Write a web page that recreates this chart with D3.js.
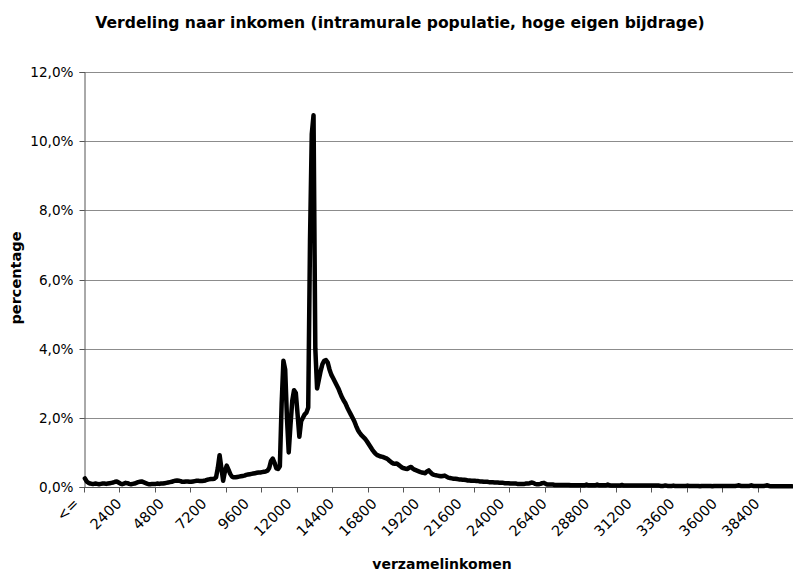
<!DOCTYPE html>
<html><head><meta charset="utf-8">
<script src="https://cdn.jsdelivr.net/npm/d3@7"></script>
<style>body{margin:0;background:#fff;overflow:hidden}</style>
</head><body><svg id="c" width="793" height="572"></svg>
<script>
const chartTitle = "Verdeling naar inkomen (intramurale populatie, hoge eigen bijdrage)";
const yTitle = "percentage";
const xTitle = "verzamelinkomen";
const yTicks = [0, 2, 4, 6, 8, 10, 12];
const xTickLabels = ["<=", "2400", "4800", "7200", "9600", "12000", "14400", "16800", "19200",
  "21600", "24000", "26400", "28800", "31200", "33600", "36000", "38400"];
// percentage per income class of 100 (class 0 = "<=")
const values = [
  0.25,0.16,0.12,0.10,0.09,0.09,0.10,0.09,0.08,0.09,0.10,0.10,0.09,0.10,0.11,0.12,0.13,0.15,0.16,0.13,
  0.10,0.08,0.10,0.12,0.11,0.09,0.08,0.09,0.10,0.12,0.14,0.15,0.16,0.14,0.12,0.10,0.08,0.08,0.09,0.09,
  0.09,0.10,0.09,0.10,0.10,0.11,0.12,0.13,0.14,0.15,0.17,0.18,0.19,0.18,0.17,0.15,0.15,0.16,0.16,0.15,
  0.15,0.16,0.17,0.18,0.18,0.17,0.17,0.18,0.19,0.21,0.22,0.23,0.23,0.24,0.28,0.55,0.92,0.55,0.18,0.45,
  0.62,0.50,0.38,0.30,0.28,0.28,0.29,0.30,0.31,0.32,0.33,0.35,0.36,0.37,0.38,0.39,0.40,0.41,0.42,0.42,
  0.43,0.44,0.45,0.47,0.55,0.75,0.82,0.70,0.54,0.52,0.60,2.40,3.65,3.40,2.00,1.00,1.80,2.50,2.80,2.72,
  2.10,1.45,1.90,2.00,2.10,2.15,2.30,7.10,10.20,10.75,4.00,2.85,3.10,3.35,3.55,3.65,3.67,3.60,3.40,3.25,
  3.15,3.05,2.95,2.85,2.72,2.60,2.50,2.42,2.30,2.20,2.10,2.00,1.90,1.77,1.65,1.57,1.50,1.45,1.40,1.33,
  1.25,1.17,1.09,1.02,0.96,0.92,0.90,0.88,0.87,0.85,0.83,0.80,0.75,0.71,0.68,0.67,0.68,0.64,0.60,0.56,
  0.54,0.53,0.52,0.56,0.58,0.53,0.50,0.48,0.46,0.44,0.42,0.41,0.40,0.45,0.48,0.42,0.37,0.35,0.34,0.33,
  0.32,0.31,0.32,0.33,0.30,0.27,0.26,0.25,0.24,0.24,0.23,0.22,0.22,0.21,0.21,0.20,0.19,0.19,0.18,0.18,
  0.18,0.17,0.17,0.16,0.16,0.15,0.15,0.15,0.14,0.14,0.14,0.13,0.13,0.13,0.12,0.12,0.12,0.11,0.11,0.11,
  0.10,0.10,0.10,0.10,0.09,0.09,0.09,0.09,0.09,0.10,0.10,0.11,0.13,0.12,0.09,0.08,0.08,0.09,0.11,0.12,
  0.09,0.07,0.07,0.07,0.07,0.06,0.06,0.06,0.06,0.06,0.06,0.06,0.06,0.06,0.05,0.05,0.05,0.05,0.05,0.05,
  0.05,0.05,0.05,0.07,0.05,0.05,0.05,0.05,0.05,0.07,0.05,0.05,0.05,0.05,0.05,0.07,0.05,0.04,0.04,0.04,
  0.04,0.04,0.04,0.06,0.04,0.04,0.04,0.04,0.04,0.04,0.04,0.04,0.04,0.04,0.04,0.04,0.04,0.04,0.04,0.04,
  0.04,0.04,0.04,0.04,0.04,0.03,0.03,0.04,0.04,0.03,0.03,0.03,0.04,0.03,0.03,0.03,0.03,0.03,0.03,0.03,
  0.04,0.03,0.03,0.03,0.03,0.03,0.03,0.02,0.03,0.03,0.03,0.03,0.03,0.03,0.02,0.03,0.03,0.03,0.03,0.03,
  0.03,0.03,0.03,0.03,0.03,0.03,0.03,0.03,0.04,0.05,0.03,0.03,0.03,0.03,0.03,0.03,0.05,0.03,0.03,0.03,
  0.03,0.03,0.03,0.03,0.04,0.05,0.03,0.02,0.02,0.02,0.02,0.02,0.02,0.02,0.02,0.02,0.02,0.02,0.02,0.02
];
const categories = values.map((v, i) => i === 0 ? "<=" : String(i * 100));

const svg = d3.select("#c");
const W = 793, H = 572;
const m = {left: 84, right: 0, top: 72, bottom: 85};
const x = d3.scaleBand().domain(categories).range([m.left, W - m.right]);
const y = d3.scaleLinear().domain([0, 12]).range([H - m.bottom, m.top]);
const bw = x.bandwidth();
const font = "DejaVu Sans, Verdana, sans-serif";

// gridlines
svg.append("g").selectAll("line").data(yTicks.filter(t => t > 0)).join("line")
  .attr("x1", m.left).attr("x2", W).attr("y1", d => Math.round(y(d)) + 0.5).attr("y2", d => Math.round(y(d)) + 0.5)
  .attr("stroke", "#8c8c8c").attr("stroke-width", 1);

// y axis
const yAxis = d3.axisLeft(y).tickValues(yTicks).tickSize(5).tickPadding(6)
  .tickFormat(d => d3.format(".1f")(d).replace(".", ",") + "%");
const ya = svg.append("g").attr("transform", `translate(${m.left + 0.5},0)`).call(yAxis);
ya.select(".domain").attr("stroke", "#555");
ya.selectAll(".tick line").attr("stroke", "#555");
ya.selectAll(".tick").attr("transform", d => `translate(0,${Math.round(y(d)) + 0.5})`);
ya.selectAll("text").attr("font-family", font).attr("font-size", 13.6).attr("fill", "#000");

// x axis line and tick marks (every 20 classes)
const base = Math.round(y(0)) + 0.5;
svg.append("line").attr("x1", m.left).attr("x2", W).attr("y1", base).attr("y2", base)
  .attr("stroke", "#555").attr("stroke-width", 1);
const tickCats = categories.filter((c, i) => i % 20 === 0);
const tickPos = tickCats.map(c => x(c)).concat([x.range()[1]]);
svg.append("g").selectAll("line").data(tickPos).join("line")
  .attr("x1", d => Math.round(d) + 0.5).attr("x2", d => Math.round(d) + 0.5)
  .attr("y1", base).attr("y2", base + 5).attr("stroke", "#555");

// x tick labels
const labelCats = categories.filter(c => xTickLabels.includes(c));
svg.append("g").selectAll("text").data(labelCats).join("text")
  .attr("transform", d => `translate(${x(d) + bw / 2 - 5},${base + 17}) rotate(-45)`)
  .attr("text-anchor", "end")
  .attr("font-family", font).attr("font-size", 14.5).attr("fill", "#000")
  .text(d => d);

// line
const line = d3.line().x((d, i) => x(categories[i]) + bw / 2).y(d => y(d));
svg.append("path").datum(values).attr("d", line)
  .attr("fill", "none").attr("stroke", "#000").attr("stroke-width", 4.5)
  .attr("stroke-linejoin", "round").attr("stroke-linecap", "round");

// titles
svg.append("text").attr("x", 400).attr("y", 28).attr("text-anchor", "middle")
  .attr("font-family", font).attr("font-weight", "bold").attr("font-size", 15.6).text(chartTitle);
svg.append("text").attr("transform", `translate(21,278) rotate(-90)`).attr("text-anchor", "middle")
  .attr("font-family", font).attr("font-weight", "bold").attr("font-size", 14.5).text(yTitle);
svg.append("text").attr("x", 442).attr("y", 569).attr("text-anchor", "middle")
  .attr("font-family", font).attr("font-weight", "bold").attr("font-size", 14).text(xTitle);
</script></body></html>
